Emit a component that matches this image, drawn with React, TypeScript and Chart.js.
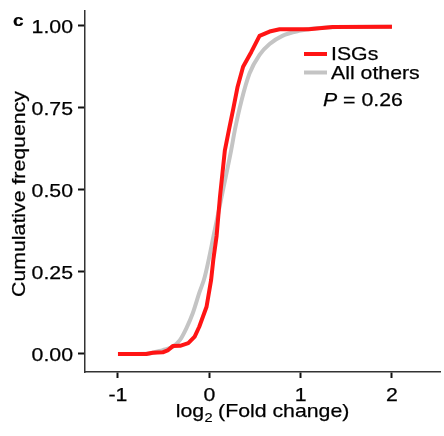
import React, { useEffect, useRef } from "react";
import { Chart, registerables } from "chart.js";

Chart.register(...registerables);

// ---- data ----
const isgX = [-1, -0.69, -0.62, -0.51, -0.45, -0.4, -0.32, -0.23, -0.16, -0.11, -0.03, 0.02, 0.045, 0.08, 0.117, 0.17, 0.22, 0.26, 0.31, 0.37, 0.46, 0.55, 0.66, 0.77, 1.09, 1.35, 2.0];
const isgY = [0, 0, 0.004, 0.005, 0.012, 0.024, 0.025, 0.033, 0.053, 0.083, 0.144, 0.226, 0.29, 0.36, 0.48, 0.62, 0.69, 0.744, 0.815, 0.876, 0.921, 0.97, 0.983, 0.99, 0.99, 0.997, 0.998];

const otherX = [-1, -0.69, -0.51, -0.4, -0.32, -0.25, -0.18, -0.11, -0.05, 0.06, 0.15, 0.24, 0.28, 0.35, 0.44, 0.55, 0.66, 0.8, 0.98, 1.17, 1.4, 2.0];
const otherY = [0, 0.001, 0.012, 0.022, 0.043, 0.079, 0.125, 0.186, 0.235, 0.378, 0.5, 0.622, 0.683, 0.77, 0.855, 0.912, 0.945, 0.97, 0.985, 0.993, 0.997, 0.998];

const xTicks = [-1, 0, 1, 2];
const yTicks = [0, 0.25, 0.5, 0.75, 1];
const seriesLabels = ["ISGs", "All others"];
const seriesColors = ["#ff1414", "#c4c4c4"];
const pLetter = "P";
const pText = " = 0.26";
const xTitleParts = ["log", "2", " (Fold change)"];
const yTitle = "Cumulative frequency";
const panelLetter = "c";

const FONT = "'Liberation Sans', Arial, Helvetica, sans-serif";
const SX = 1.12; // horizontal stretch of the reference lettering
const MAIN = `19px ${FONT}`;

function label(
  ctx: CanvasRenderingContext2D,
  text: string,
  x: number,
  y: number,
  align: "left" | "center" | "right" = "left",
  stroke = 0.25
) {
  const w = ctx.measureText(text).width * SX;
  const sx = align === "left" ? x : align === "center" ? x - w / 2 : x - w;
  ctx.save();
  ctx.translate(sx, y);
  ctx.scale(SX, 1);
  ctx.textAlign = "left";
  ctx.fillText(text, 0, 0);
  if (stroke > 0) {
    ctx.lineWidth = stroke;
    ctx.strokeStyle = ctx.fillStyle as string;
    ctx.strokeText(text, 0, 0);
  }
  ctx.restore();
  return w;
}

const annotations = {
  id: "annotations",
  afterDraw(chart: any) {
    const ctx: CanvasRenderingContext2D = chart.ctx;
    const ca = chart.chartArea;
    const xs = chart.scales.x;
    const ys = chart.scales.y;
    ctx.save();
    ctx.fillStyle = "#000";
    ctx.textBaseline = "alphabetic";

    // tick labels
    ctx.font = MAIN;
    xTicks.forEach((v) => {
      label(ctx, String(v), xs.getPixelForValue(v), 401, "center");
    });
    yTicks.forEach((v) => {
      label(ctx, v.toFixed(2), 73, ys.getPixelForValue(v) + 6.7, "right");
    });

    // panel letter
    ctx.font = `bold 17px ${FONT}`;
    label(ctx, panelLetter, 13, 26, "left", 0.2);

    // y title
    ctx.save();
    ctx.font = MAIN;
    ctx.translate(25, 194);
    ctx.rotate(-Math.PI / 2);
    label(ctx, yTitle, 0, 0, "center");
    ctx.restore();

    // x title with subscript
    const subFont = `13px ${FONT}`;
    ctx.font = MAIN;
    const w1 = ctx.measureText(xTitleParts[0]).width * SX;
    const w3 = ctx.measureText(xTitleParts[2]).width * SX;
    ctx.font = subFont;
    const w2 = ctx.measureText(xTitleParts[1]).width * SX;
    const total = w1 + w2 + w3;
    const x0 = (ca.left + ca.right) / 2 - total / 2;
    const base = 417;
    ctx.font = MAIN;
    label(ctx, xTitleParts[0], x0, base);
    ctx.font = subFont;
    label(ctx, xTitleParts[1], x0 + w1 + 0.5, base + 5, "left", 0.2);
    ctx.font = MAIN;
    label(ctx, xTitleParts[2], x0 + w1 + w2, base);

    // legend
    const legY = [54, 72.5];
    const legBase = [60, 79];
    for (let i = 0; i < 2; i++) {
      ctx.strokeStyle = seriesColors[i];
      ctx.lineWidth = 4;
      ctx.lineCap = "butt";
      ctx.beginPath();
      ctx.moveTo(304, legY[i]);
      ctx.lineTo(327, legY[i]);
      ctx.stroke();
      ctx.font = MAIN;
      label(ctx, seriesLabels[i], 331, legBase[i]);
    }

    // P value
    ctx.font = `italic ${MAIN}`;
    const pw = label(ctx, pLetter, 323, 106);
    ctx.font = MAIN;
    label(ctx, pText, 323 + pw, 106);

    ctx.restore();
  },
};

export default function App() {
  const ref = useRef<HTMLCanvasElement | null>(null);

  useEffect(() => {
    if (!ref.current) return;
    const toPts = (xs: number[], ys: number[]) => xs.map((x, i) => ({ x, y: ys[i] }));
    const chart = new Chart(ref.current, {
      type: "scatter",
      data: {
        datasets: [
          {
            label: seriesLabels[0],
            data: toPts(isgX, isgY),
            showLine: true,
            borderColor: seriesColors[0],
            backgroundColor: seriesColors[0],
            borderWidth: 4,
            pointRadius: 0,
            tension: 0,
            borderJoinStyle: "round",
          },
          {
            label: seriesLabels[1],
            data: toPts(otherX, otherY),
            showLine: true,
            borderColor: seriesColors[1],
            backgroundColor: seriesColors[1],
            borderWidth: 4,
            pointRadius: 0,
            cubicInterpolationMode: "monotone",
          },
        ],
      },
      options: {
        responsive: false,
        animation: false,
        devicePixelRatio: 1,
        layout: { padding: { top: 11, right: 4, left: 0, bottom: 0 } },
        plugins: {
          legend: { display: false },
          tooltip: { enabled: false },
          title: { display: false },
        },
        scales: {
          x: {
            type: "linear",
            min: -1.361,
            max: 2.526,
            afterBuildTicks: (s: any) => {
              s.ticks = xTicks.map((v) => ({ value: v }));
            },
            afterFit: (s: any) => {
              s.height = 64;
            },
            ticks: { display: false },
            grid: {
              drawOnChartArea: false,
              drawTicks: true,
              tickLength: 6,
              tickWidth: 2,
              tickColor: "#111",
            },
            border: { display: true, color: "#333", width: 1.5 },
          },
          y: {
            type: "linear",
            min: -0.0549,
            max: 1.0457,
            afterBuildTicks: (s: any) => {
              s.ticks = yTicks.map((v) => ({ value: v }));
            },
            afterFit: (s: any) => {
              s.width = 85;
            },
            ticks: { display: false },
            grid: {
              drawOnChartArea: false,
              drawTicks: true,
              tickLength: 7,
              tickWidth: 2,
              tickColor: "#111",
            },
            border: { display: true, color: "#333", width: 1.5 },
          },
        },
      },
      plugins: [annotations],
    });
    return () => chart.destroy();
  }, []);

  return (
    <div style={{ position: "fixed", left: 0, top: 0, width: 444, height: 436, background: "#fff" }}>
      <canvas ref={ref} width={444} height={436} style={{ width: 444, height: 436, display: "block" }} />
    </div>
  );
}
